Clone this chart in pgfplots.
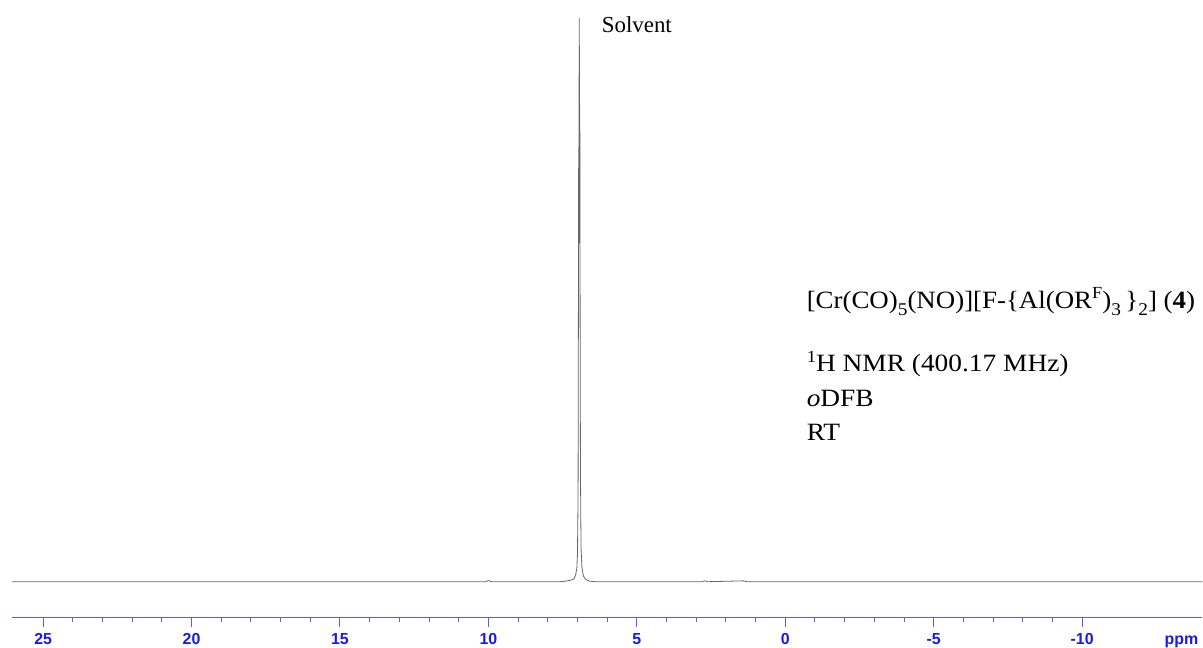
\documentclass[border=0pt]{standalone}
\usepackage{fontspec}
\setmainfont{Liberation Serif}
\newfontfamily\sansb{Liberation Sans}
\usepackage{pgfplots}
\pgfplotsset{compat=1.18}
\definecolor{axblue}{RGB}{90,90,255}
\definecolor{lblblue}{RGB}{25,25,235}
\newcommand\sub[1]{\raisebox{-0.28em}{\fontsize{18}{18}\selectfont #1}}
\newcommand\sups[1]{\raisebox{0.38em}{\fontsize{17}{17}\selectfont #1}}
\begin{document}
\begin{tikzpicture}
\begin{axis}[
  scale only axis,
  width=1191bp, height=618bp,
  x dir=reverse,
  xmin=-14.05, xmax=26.05,
  ymin=-0.0638, ymax=1.032,
  axis x line*=bottom,
  axis y line=none,
  x axis line style={axblue, line width=1.3bp, -},
  xtick={25,20,15,10,5,0,-5,-10},
  xticklabels={25,20,15,10,5,0,-5,-10},
  minor x tick num=4,
  tick align=outside,
  major tick length=9bp,
  minor tick length=4bp,
  every tick/.style={axblue, line width=1bp},
  xticklabel style={font=\sansb\bfseries\fontsize{16}{16}\selectfont, text=lblblue, anchor=north, inner sep=0pt, text height=11.5bp, text depth=0pt, yshift=-6bp},
  clip=false,
]
\addplot[black!60, line width=0.8bp] coordinates {
(26.05,0) (20,0) (15,0) (10.1,0) (10.0,0.002) (9.9,0)
(7.6,0) (7.4,0.001) (7.2,0.003) (7.12,0.005) (7.06,0.012) (7.02,0.025)
(7.0,0.05) (6.98,0.15) (6.97,0.45) (6.96,0.75) (6.955,0.6) (6.95,0.9)
(6.945,0.7) (6.94,1.0) (6.935,0.75) (6.93,0.95) (6.925,0.6) (6.92,0.8)
(6.91,0.45) (6.90,0.2) (6.88,0.06) (6.85,0.025) (6.80,0.01) (6.72,0.004)
(6.60,0.001) (6.4,0) (2.8,0) (2.7,0.0015) (2.6,0) (1.4,0.0015) (1.3,0) (-14.05,0)
};
\end{axis}
\node[anchor=base west, inner sep=0pt, font=\fontsize{23}{23}\selectfont] at (590bp,585bp) {Solvent};
\begin{scope}[every node/.style={anchor=base west, inner sep=0pt, font=\fontsize{25}{25}\selectfont}]
\node at (795bp,309.7bp) {\scalebox{1.08}[1]{[Cr(CO)\sub{5}(NO)][F-\{Al(OR\sups{F})\sub{3}\,\}\sub{2}] (\textbf{4})}};
\node at (795bp,246.3bp) {\scalebox{1.1}[1]{\sups{1}H NMR (400.17 MHz)}};
\node at (795bp,211.3bp) {\scalebox{1.1}[1]{\textit{o}DFB}};
\node at (795bp,177bp) {\scalebox{1.1}[1]{RT}};
\end{scope}
\node[anchor=north, inner sep=0pt, text height=11.5bp, text depth=0pt, font=\sansb\bfseries\fontsize{16}{16}\selectfont, text=lblblue] at (1170bp,-15bp) {ppm};
\path[use as bounding box] (-12bp,-30bp) rectangle (1191bp,618bp);
\end{tikzpicture}
\end{document}
